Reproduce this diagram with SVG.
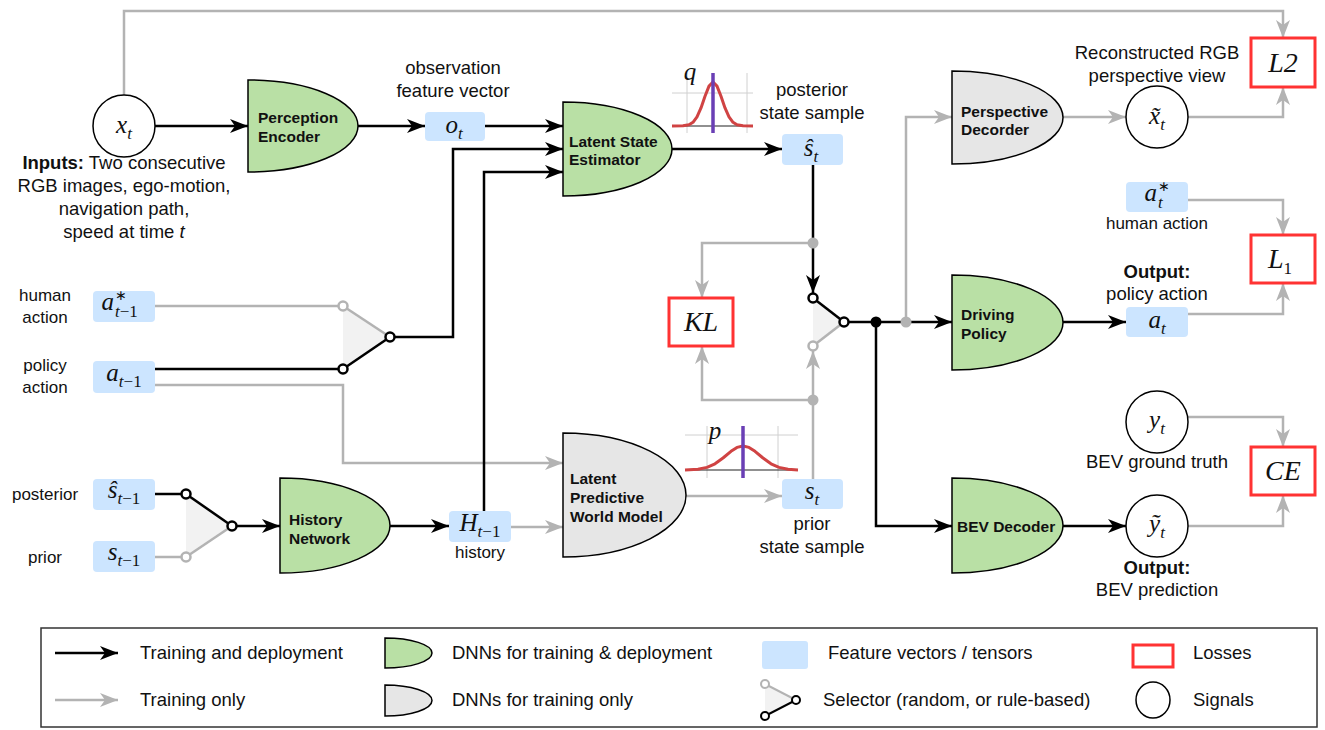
<svg xmlns="http://www.w3.org/2000/svg" width="1325" height="730" viewBox="0 0 1325 730">
<defs>
<marker id="ah" viewBox="0 0 18 14" refX="18" refY="7" markerWidth="18" markerHeight="14" markerUnits="userSpaceOnUse" orient="auto"><path d="M0,0 L18,7 L0,14 L5,7 Z" fill="#000"/></marker>
<marker id="gh" viewBox="0 0 18 14" refX="18" refY="7" markerWidth="18" markerHeight="14" markerUnits="userSpaceOnUse" orient="auto"><path d="M0,0 L18,7 L0,14 L5,7 Z" fill="#b3b3b3"/></marker>
<style>
.k{stroke:#000;stroke-width:2.5;fill:none}
.g{stroke:#b3b3b3;stroke-width:2.5;fill:none}
.ka{marker-end:url(#ah)}
.ga{marker-end:url(#gh)}
.dg{fill:#b9e0a5;stroke:#000;stroke-width:1.5}
.dy{fill:#e6e6e6;stroke:#000;stroke-width:1.5}
.fv{fill:#cce5ff;stroke:none}
.loss{fill:#fff;stroke:#ff3333;stroke-width:3}
.sig{fill:#fff;stroke:#000;stroke-width:1.5}
.tri{fill:#f2f2f2;stroke:none}
.nk{fill:#fff;stroke:#000;stroke-width:2.5}
.ng{fill:#fff;stroke:#b3b3b3;stroke-width:2.5}
.lb{font-family:"Liberation Sans",Arial,sans-serif;font-size:18.5px;fill:#111}
.sm{font-size:17px}
.nb{font-family:"Liberation Sans",Arial,sans-serif;font-size:15.5px;font-weight:bold;fill:#111}
.m{font-family:"Liberation Serif","Times New Roman",serif;font-style:italic;font-size:25px;fill:#111}
.s{font-size:17px}
.lm{font-size:28px}
.up{font-style:normal}
.grid{stroke:#d0d0d0;stroke-width:1;fill:none}
.base{stroke:#222;stroke-width:1.2;fill:none}
.pur{stroke:#6a3fb5;stroke-width:3.5}
.red{stroke:#d04343;stroke-width:3;fill:none;stroke-linejoin:round}
</style>
</defs>

<g id="connectors">
<path class="g ga" d="M124,95 V11 H1283 V38"/>
<path class="g ga" d="M1188,117 H1283 V87"/>
<path class="g ga" d="M1063,117 H1126"/>
<path class="g ga" d="M906,322 V117 H952"/>
<path class="g ga" d="M1188,200 H1283 V235"/>
<path class="g ga" d="M1188,314 H1283 V283"/>
<path class="g ga" d="M1188,417 H1283 V447"/>
<path class="g ga" d="M1188,526 H1283 V495"/>
<path class="g ga" d="M813,243 H702 V298"/>
<path class="g ga" d="M813,400 H702 V346"/>
<path class="g ga" d="M813,479 V351"/>
<path class="g ga" d="M686,496 H782"/>
<path class="g ga" d="M155,385 H343 V463 H563"/>
<path class="g ga" d="M511,527 H563"/>
<path class="g" d="M155,306 H339"/>
<path class="g" d="M155,557 H182"/>
<path class="k ka" d="M155,126 H248"/>
<path class="k ka" d="M358,126 H425"/>
<path class="k ka" d="M485,126 H563"/>
<path class="k ka" d="M394,337 H453 V149 H563"/>
<path class="k ka" d="M484,511 V172 H563"/>
<path class="k ka" d="M672,149 H782"/>
<path class="k ka" d="M813,165 V293"/>
<path class="k ka" d="M848,322 H952"/>
<path class="k ka" d="M876,322 V526 H952"/>
<path class="k ka" d="M1063,322 H1126"/>
<path class="k ka" d="M1063,526 H1126"/>
<path class="k" d="M155,369 H339"/>
<path class="k" d="M155,494 H182"/>
<path class="k ka" d="M236,526 H280"/>
<path class="k ka" d="M390,526 H449"/>
<circle cx="813" cy="243" r="5.5" fill="#b3b3b3"/>
<circle cx="813" cy="400" r="5.5" fill="#b3b3b3"/>
<circle cx="876" cy="322" r="5.5" fill="#000"/>
<circle cx="906" cy="322" r="5.5" fill="#b3b3b3"/>
</g>

<g id="n-xt">
<circle class="sig" cx="124" cy="126" r="31"/>
<text class="m" x="124" y="133" text-anchor="middle" font-size="28">x<tspan class="s" font-size="19" dy="6">t</tspan></text>
<text class="lb" x="124" y="169" text-anchor="middle"><tspan font-weight="bold">Inputs:</tspan> Two consecutive</text>
<text class="lb" x="124" y="192" text-anchor="middle">RGB images, ego-motion,</text>
<text class="lb" x="124" y="215" text-anchor="middle">navigation path,</text>
<text class="lb" x="124" y="238" text-anchor="middle">speed at time <tspan font-style="italic">t</tspan></text>
</g>

<g id="n-perception-encoder">
<path class="dg" d="M248,80 A110,46 0 0 1 358,126 A110,46 0 0 1 248,172 Z"/>
<text class="nb" x="258" y="123">Perception</text>
<text class="nb" x="258" y="142">Encoder</text>
</g>

<g id="n-ot">
<rect class="fv" x="425" y="112" width="60" height="29" rx="4"/>
<text class="m" x="454" y="133" text-anchor="middle">o<tspan class="s" dy="6">t</tspan></text>
<text class="lb" x="453" y="74" text-anchor="middle">observation</text>
<text class="lb" x="453" y="97" text-anchor="middle">feature vector</text>
</g>

<g id="n-latent-state-estimator">
<path class="dg" d="M563,102 A109,47 0 0 1 672,149 A109,47 0 0 1 563,196 Z"/>
<text class="nb" x="569" y="147">Latent State</text>
<text class="nb" x="569" y="165">Estimator</text>
</g>

<g id="n-q">
<path class="grid" d="M672,93 H753 M687,73 V133 M747,73 V133"/>
<path class="base" d="M672,126 H753"/>
<polyline class="red" points="672,126 683,125.8 689,124.8 693,122.3 697,116.9 701,107.9 705,96.3 709,86.1 713,82 717,86.1 721,96.3 725,107.9 729,116.9 733,122.3 737,124.8 743,125.8 753,126"/>
<line class="pur" x1="713" y1="73" x2="713" y2="133"/>
<text class="m" x="690" y="80" text-anchor="middle" font-size="24">q</text>
</g>

<g id="n-shat-t">
<rect class="fv" x="782" y="134" width="61" height="31" rx="4"/>
<text class="m" x="811" y="156" text-anchor="middle">ŝ<tspan class="s" dy="6">t</tspan></text>
<text class="lb" x="812" y="96" text-anchor="middle">posterior</text>
<text class="lb" x="812" y="119" text-anchor="middle">state sample</text>
</g>

<g id="n-perspective-decoder">
<path class="dy" d="M952,71 A111,46.5 0 0 1 1063,117.5 A111,46.5 0 0 1 952,164 Z"/>
<text class="nb" x="961" y="117">Perspective</text>
<text class="nb" x="961" y="135">Decorder</text>
</g>

<g id="n-xtilde">
<circle class="sig" cx="1157" cy="117" r="31"/>
<text class="m" x="1157" y="124" text-anchor="middle" font-size="28">x&#771;<tspan class="s" font-size="19" dy="6">t</tspan></text>
<text class="lb" x="1157" y="59" text-anchor="middle">Reconstructed RGB</text>
<text class="lb" x="1157" y="82" text-anchor="middle">perspective view</text>
</g>

<g id="n-L2">
<rect class="loss" x="1251" y="38" width="64" height="49"/>
<text class="m lm" x="1283" y="72" text-anchor="middle">L2</text>
</g>

<g id="n-astar-t">
<rect class="fv" x="1126" y="182" width="62" height="30" rx="4"/>
<text class="m" x="1157" y="201" text-anchor="end">a</text>
<text class="up" x="1158" y="191" font-family="Liberation Serif,serif" font-size="14" fill="#111">∗</text>
<text class="m s" x="1158" y="208">t</text>
<text class="lb sm" x="1157" y="229" text-anchor="middle">human action</text>
</g>

<g id="n-L1">
<rect class="loss" x="1251" y="235" width="64" height="48"/>
<text class="m lm" x="1280" y="268" text-anchor="middle">L<tspan class="s up" font-size="19" dy="6">1</tspan></text>
</g>

<g id="n-at">
<rect class="fv" x="1126" y="307" width="62" height="30" rx="4"/>
<text class="m" x="1157" y="328" text-anchor="middle">a<tspan class="s" dy="6">t</tspan></text>
<text class="lb" x="1157" y="278" text-anchor="middle" font-weight="bold">Output:</text>
<text class="lb" x="1157" y="300" text-anchor="middle">policy action</text>
</g>

<g id="n-driving-policy">
<path class="dg" d="M952,275 A111,47.5 0 0 1 1063,322.5 A111,47.5 0 0 1 952,370 Z"/>
<text class="nb" x="961" y="320">Driving</text>
<text class="nb" x="961" y="339">Policy</text>
</g>

<g id="n-KL">
<rect class="loss" x="669" y="298" width="64" height="48"/>
<text class="m lm" x="701" y="331" text-anchor="middle">KL</text>
</g>

<g id="n-selector-state">
<polygon class="tri" points="813,298 813,346 844,322"/>
<line class="g" x1="813" y1="346" x2="844" y2="322"/>
<line class="k" x1="813" y1="298" x2="844" y2="322"/>
<circle class="nk" cx="813" cy="298" r="4.5"/>
<circle class="ng" cx="813" cy="346" r="4.5"/>
<circle class="nk" cx="844" cy="322" r="4.5"/>
</g>

<g id="n-selector-action">
<polygon class="tri" points="343,306 343,369 390,337"/>
<line class="g" x1="343" y1="306" x2="390" y2="337"/>
<line class="k" x1="343" y1="369" x2="390" y2="337"/>
<circle class="ng" cx="343" cy="306" r="4.5"/>
<circle class="nk" cx="343" cy="369" r="4.5"/>
<circle class="nk" cx="390" cy="337" r="4.5"/>
</g>

<g id="n-selector-history">
<polygon class="tri" points="186,494 186,557 232,526"/>
<line class="g" x1="186" y1="557" x2="232" y2="526"/>
<line class="k" x1="186" y1="494" x2="232" y2="526"/>
<circle class="nk" cx="186" cy="494" r="4.5"/>
<circle class="ng" cx="186" cy="557" r="4.5"/>
<circle class="nk" cx="232" cy="526" r="4.5"/>
</g>

<g id="n-astar-t1">
<rect class="fv" x="93" y="291" width="62" height="31" rx="4"/>
<text class="m" x="114" y="310" text-anchor="end">a</text>
<text x="115" y="300" font-family="Liberation Serif,serif" font-size="14" fill="#111">∗</text>
<text class="m s" x="115" y="317">t<tspan class="up">−1</tspan></text>
<text class="lb sm" x="45" y="301" text-anchor="middle">human</text>
<text class="lb sm" x="45" y="323" text-anchor="middle">action</text>
</g>

<g id="n-a-t1">
<rect class="fv" x="93" y="361" width="62" height="32" rx="4"/>
<text class="m" x="124" y="381" text-anchor="middle">a<tspan class="s" dy="6">t</tspan><tspan class="s up">−1</tspan></text>
<text class="lb sm" x="45" y="371" text-anchor="middle">policy</text>
<text class="lb sm" x="45" y="393" text-anchor="middle">action</text>
</g>

<g id="n-shat-t1">
<rect class="fv" x="93" y="479" width="62" height="31" rx="4"/>
<text class="m" x="124" y="498" text-anchor="middle">ŝ<tspan class="s" dy="6">t</tspan><tspan class="s up">−1</tspan></text>
<text class="lb sm" x="45" y="500" text-anchor="middle">posterior</text>
</g>

<g id="n-s-t1">
<rect class="fv" x="93" y="541" width="62" height="31" rx="4"/>
<text class="m" x="124" y="560" text-anchor="middle">s<tspan class="s" dy="6">t</tspan><tspan class="s up">−1</tspan></text>
<text class="lb sm" x="45" y="563" text-anchor="middle">prior</text>
</g>

<g id="n-history-network">
<path class="dg" d="M280,478 A110,47.5 0 0 1 390,525.5 A110,47.5 0 0 1 280,573 Z"/>
<text class="nb" x="289" y="525">History</text>
<text class="nb" x="289" y="544">Network</text>
</g>

<g id="n-H">
<rect class="fv" x="449" y="511" width="62" height="31" rx="4"/>
<text class="m" x="480" y="531" text-anchor="middle">H<tspan class="s" dy="6">t</tspan><tspan class="s up">−1</tspan></text>
<text class="lb sm" x="480" y="558" text-anchor="middle">history</text>
</g>

<g id="n-latent-predictive">
<path class="dy" d="M563,433 A123,62 0 0 1 686,495 A123,62 0 0 1 563,557 Z"/>
<text class="nb" x="570" y="484">Latent</text>
<text class="nb" x="570" y="503">Predictive</text>
<text class="nb" x="570" y="522">World Model</text>
</g>

<g id="n-p">
<path class="grid" d="M685,435 H798 M707,426 V478 M778,426 V478"/>
<path class="base" d="M685,470 H798"/>
<polyline class="red" points="685,470 698,469.3 707,467.4 715,463.8 723,458 731,451.3 737,447.4 743,446 749,447.4 755,451.3 763,458 771,463.8 779,467.4 788,469.3 798,470"/>
<line class="pur" x1="743" y1="426" x2="743" y2="478"/>
<text class="m" x="715" y="439" text-anchor="middle" font-size="24">p</text>
</g>

<g id="n-st">
<rect class="fv" x="782" y="479" width="61" height="30" rx="4"/>
<text class="m" x="812" y="499" text-anchor="middle">s<tspan class="s" dy="6">t</tspan></text>
<text class="lb" x="812" y="530" text-anchor="middle">prior</text>
<text class="lb" x="812" y="553" text-anchor="middle">state sample</text>
</g>

<g id="n-yt">
<circle class="sig" cx="1157" cy="422" r="31"/>
<text class="m" x="1157" y="428" text-anchor="middle" font-size="28">y<tspan class="s" font-size="19" dy="6">t</tspan></text>
<text class="lb" x="1157" y="468" text-anchor="middle">BEV ground truth</text>
</g>

<g id="n-CE">
<rect class="loss" x="1251" y="447" width="64" height="48"/>
<text class="m lm" x="1283" y="480" text-anchor="middle">CE</text>
</g>

<g id="n-bev-decoder">
<path class="dg" d="M952,478 A111,47.5 0 0 1 1063,525.5 A111,47.5 0 0 1 952,573 Z"/>
<text class="nb" x="957" y="532">BEV Decoder</text>
</g>

<g id="n-ytilde">
<circle class="sig" cx="1157" cy="526" r="31"/>
<text class="m" x="1157" y="532" text-anchor="middle" font-size="28">ỹ<tspan class="s" font-size="19" dy="6">t</tspan></text>
<text class="lb" x="1157" y="574" text-anchor="middle" font-weight="bold">Output:</text>
<text class="lb" x="1157" y="596" text-anchor="middle">BEV prediction</text>
</g>

<g id="legend">
<rect x="41" y="628" width="1276" height="99" fill="#fff" stroke="#333" stroke-width="1.5"/>
<path class="k ka" d="M55,653 H118"/>
<path class="g ga" d="M55,700 H118"/>
<text class="lb" x="140" y="659">Training and deployment</text>
<text class="lb" x="140" y="706">Training only</text>
<path class="dg" d="M385,638 A47,15 0 0 1 432,653 A47,15 0 0 1 385,668 Z"/>
<path class="dy" d="M385,685 A47,15.5 0 0 1 432,700.5 A47,15.5 0 0 1 385,716 Z"/>
<text class="lb" x="452" y="659">DNNs for training &amp; deployment</text>
<text class="lb" x="452" y="706">DNNs for training only</text>
<rect class="fv" x="762" y="641" width="46" height="28" rx="3"/>
<text class="lb" x="828" y="659">Feature vectors / tensors</text>
<polygon class="tri" points="765,684 765,716 796,700"/>
<line x1="765" y1="684" x2="796" y2="700" stroke="#b3b3b3" stroke-width="2"/>
<line x1="765" y1="716" x2="796" y2="700" stroke="#000" stroke-width="2"/>
<circle cx="765" cy="684" r="4" fill="#fff" stroke="#b3b3b3" stroke-width="2"/>
<circle cx="765" cy="716" r="4" fill="#fff" stroke="#000" stroke-width="2"/>
<circle cx="796" cy="700" r="4" fill="#fff" stroke="#000" stroke-width="2"/>
<text class="lb" x="823" y="706">Selector (random, or rule-based)</text>
<rect class="loss" x="1133" y="645" width="40" height="22" stroke-width="2.5"/>
<text class="lb" x="1193" y="659">Losses</text>
<ellipse class="sig" cx="1153" cy="700" rx="17" ry="18"/>
<text class="lb" x="1193" y="706">Signals</text>
</g>
</svg>
